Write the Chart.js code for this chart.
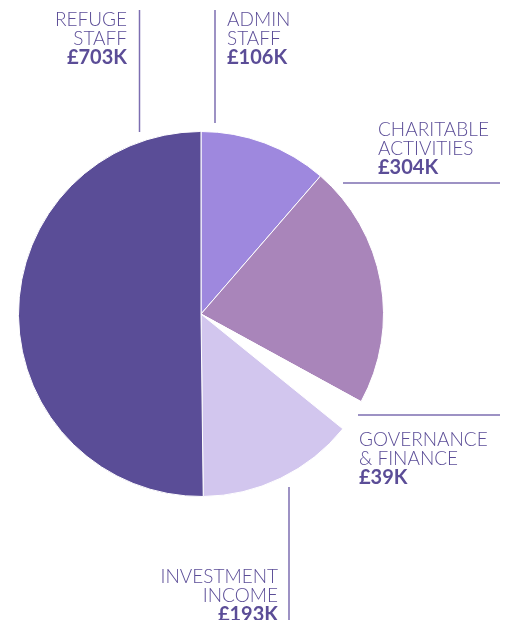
<!DOCTYPE html>
<html lang="en">
<head>
    <meta charset="UTF-8">
    <title>Expenditure</title>
    <script src="https://cdn.jsdelivr.net/npm/chart.js"></script>
    <style>
        html, body { margin: 0; padding: 0; background: #fff; }
        #wrap { position: relative; width: 507px; height: 620px; }
    </style>
</head>
<body>
<div id="wrap"><canvas id="costChart" width="507" height="620"></canvas></div>

<script>
    // categories, clockwise from 12 o'clock
    var categories = ['Admin staff', 'Charitable activities', 'Governance & finance', 'Investment income', 'Refuge staff'];
    var labelLines = [['ADMIN', 'STAFF'], ['CHARITABLE', 'ACTIVITIES'], ['GOVERNANCE', '& FINANCE'], ['INVESTMENT', 'INCOME'], ['REFUGE', 'STAFF']];
    var amounts = ['£106K', '£304K', '£39K', '£193K', '£703K'];
    // slice sizes as drawn in the picture (degrees), the artwork is not to scale
    var sliceShares = [40.9, 77.8, 10.3, 50.3, 180.7];
    var sliceColors = ['#9e88de', '#a985ba', '#ffffff', '#d2c6ee', '#5a4d97'];

    var textColor = '#5b4d97';
    var lineColor = '#7c6eb1';

    // where each callout sits: text anchor, alignment, first baseline, leader line
    var callouts = [
        { x: 227, y: 25.5, align: 'left',  line: [215, 10, 215, 123] },
        { x: 378, y: 135.5, align: 'left', line: [343, 183, 500, 183] },
        { x: 359, y: 446, align: 'left',   line: [358, 415, 500, 415] },
        { x: 278, y: 583, align: 'right',  line: [289, 487, 289, 620] },
        { x: 127, y: 25.5, align: 'right', line: [139.5, 10, 139.5, 132] }
    ];

    var calloutPlugin = {
        id: 'callouts',
        afterDraw: function(chart) {
            var ctx = chart.ctx;
            ctx.save();
            callouts.forEach(function(c, i) {
                ctx.strokeStyle = lineColor;
                ctx.lineWidth = 1.5;
                ctx.beginPath();
                ctx.moveTo(c.line[0], c.line[1]);
                ctx.lineTo(c.line[2], c.line[3]);
                ctx.stroke();

                ctx.fillStyle = textColor;
                ctx.textAlign = c.align;
                ctx.textBaseline = 'alphabetic';
                ctx.font = '300 19px Lato';
                labelLines[i].forEach(function(t, j) {
                    ctx.fillText(t, c.x, c.y + j * 19);
                });
                ctx.font = 'bold 20px Lato';
                ctx.fillText(amounts[i], c.x, c.y + labelLines[i].length * 19);
            });
            ctx.restore();
        }
    };

    var ctx = document.getElementById('costChart').getContext('2d');
    new Chart(ctx, {
        type: 'pie',
        data: {
            labels: categories,
            datasets: [{
                data: sliceShares,
                backgroundColor: sliceColors,
                borderColor: '#ffffff',
                borderWidth: 1
            }]
        },
        options: {
            responsive: false,
            animation: false,
            layout: { padding: { left: 18, right: 123, top: 131, bottom: 123 } },
            plugins: {
                legend: { display: false },
                tooltip: { enabled: false }
            }
        },
        plugins: [calloutPlugin]
    });
</script>
</body>
</html>
